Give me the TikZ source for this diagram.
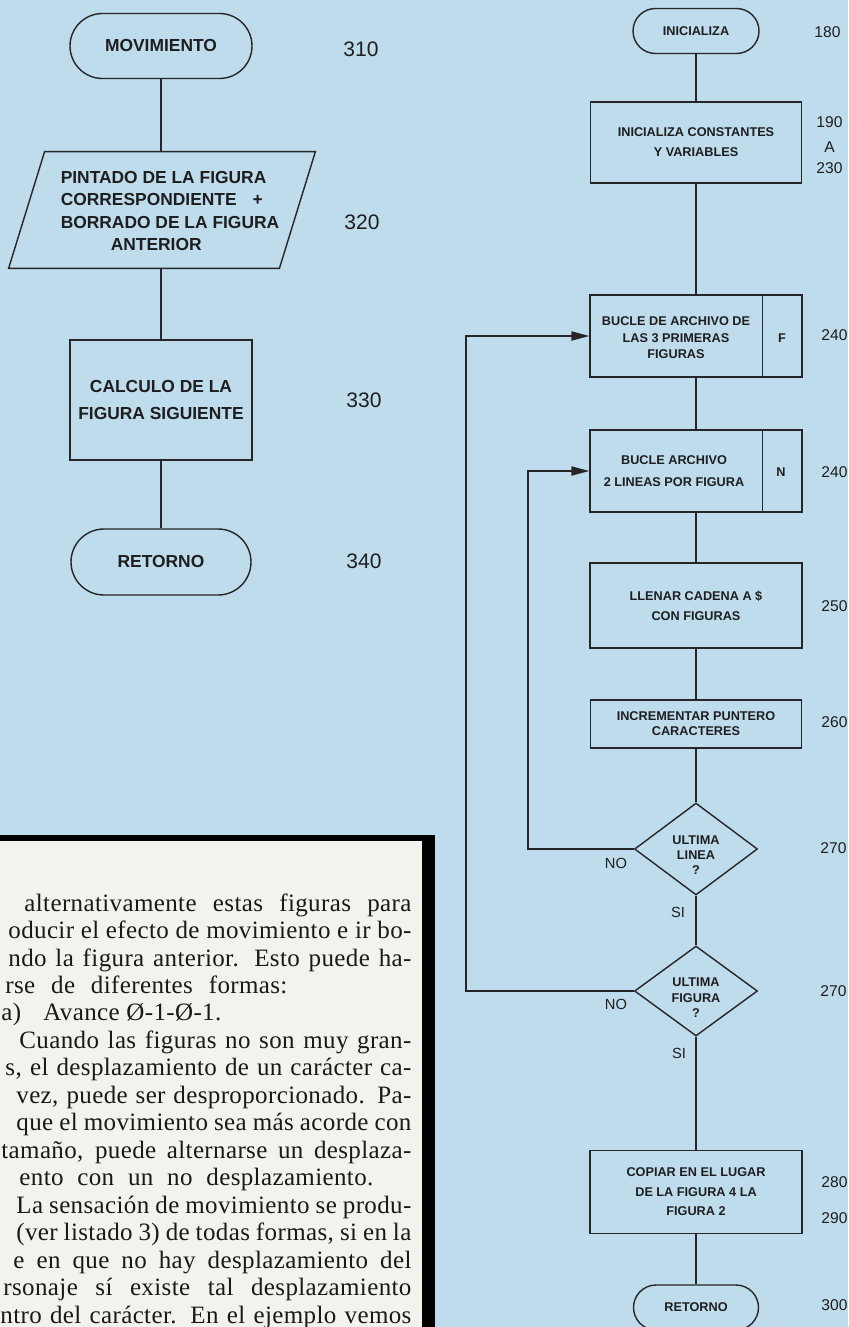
\documentclass[tikz,border=0pt]{standalone}
\usepackage{fontspec}
\setmainfont{Liberation Serif}
\newfontfamily\bodyfont[LetterSpace=1.5]{Liberation Serif}
\newfontfamily\chartfont{Liberation Sans}
\usetikzlibrary{shapes.misc,shapes.geometric,arrows.meta,calc}
\definecolor{bgblue}{RGB}{190,220,235}
\definecolor{paper}{RGB}{244,242,237}
\definecolor{linec}{RGB}{38,38,40}
\definecolor{txtc}{RGB}{30,30,32}
\definecolor{bodyc}{RGB}{25,25,25}
\tikzset{
  line/.style={draw=linec, line width=0.7pt},
  arr/.style={draw=linec, line width=0.7pt, -{Triangle[length=9pt,width=4.6pt]}},
  term/.style={rounded rectangle, draw=linec, line width=0.7pt, inner sep=0pt},
  proc/.style={rectangle, draw=linec, line width=0.7pt, inner sep=0pt},
  rhomb/.style={diamond, draw=linec, line width=0.7pt, inner sep=0pt},
  bigtxt/.style={font=\chartfont\bfseries\fontsize{8.7}{#1}\selectfont, text=txtc},
  bigtxt/.default=11.3,
  smalltxt/.style={font=\chartfont\bfseries\fontsize{6.35}{#1}\selectfont, text=txtc, inner sep=0pt},
  smalltxt/.default=9,
  bignum/.style={font=\chartfont\fontsize{10.5}{12}\selectfont, text=txtc},
  smallnum/.style={font=\chartfont\fontsize{7.8}{9}\selectfont, text=txtc, anchor=west, inner sep=0pt},
  yn/.style={font=\chartfont\fontsize{7.35}{9}\selectfont, text=txtc, inner sep=0pt},
  body/.style={font=\bodyfont\fontsize{12.5}{13.7}\selectfont, text=bodyc, anchor=base west, inner sep=0pt},
}
\begin{document}
\begin{tikzpicture}[x=0.5pt,y=-0.5pt]
\useasboundingbox (0,0) rectangle (848,1327);
\fill[bgblue] (0,0) rectangle (848,1327);

% ---------- text box ----------
\fill[paper] (-10,835) rectangle (435,1340);
\fill[black] (-10,835) rectangle (435,841);
\fill[black] (422,835) rectangle (435,1340);

\node[body] (t1) at (24,911) {\makebox[193.5pt][s]{alternativamente estas figuras para}};
\node[body] (t2) at (8,938.5) {\makebox[201.5pt][s]{oducir el efecto de movimiento e ir bo-}};
\node[body] (t3) at (8,966) {\makebox[201.5pt][s]{ndo la figura anterior. Esto puede ha-}};
\node[body] (t4) at (5,993.4) {\makebox[141pt][s]{rse de diferentes formas:}};
\node[body] (t5a) at (1,1020.9) {a)};
\node[body] (t5b) at (43,1020.9) {Avance Ø-1-Ø-1.};
\node[body] (t6) at (19,1048.4) {\makebox[196pt][s]{Cuando las figuras no son muy gran-}};
\node[body] (t7) at (5,1075.8) {\makebox[203pt][s]{s, el desplazamiento de un carácter ca-}};
\node[body] (t8) at (16,1103.3) {\makebox[197.5pt][s]{vez, puede ser desproporcionado. Pa-}};
\node[body] (t9) at (16,1130.8) {\makebox[197.5pt][s]{que el movimiento sea más acorde con}};
\node[body] (t10) at (1,1158.2) {\makebox[205pt][s]{tamaño, puede alternarse un desplaza-}};
\node[body] (t11) at (19,1185.7) {\makebox[177pt][s]{ento con un no desplazamiento.}};
\node[body] (t12) at (16,1213.2) {\makebox[197.5pt][s]{La sensación de movimiento se produ-}};
\node[body] (t13) at (16,1240.6) {\makebox[197.5pt][s]{(ver listado 3) de todas formas, si en la}};
\node[body] (t14) at (13,1268.1) {\makebox[199pt][s]{e en que no hay desplazamiento del}};
\node[body] (t15) at (3,1295.6) {\makebox[204pt][s]{rsonaje sí existe tal desplazamiento}};
\node[body] (t16) at (0,1323) {\makebox[205.5pt][s]{ntro del carácter. En el ejemplo vemos}};

% ---------- left chart ----------
\node[term, minimum width=91pt, minimum height=32.5pt, bigtxt] (m310) at (161,46) {MOVIMIENTO};
\node[bignum] (n310) at (361,49) {310};

\node[minimum width=135pt, minimum height=58pt, inner sep=0pt] (p320) at (161,210) {};
\draw[line] ($(p320.north west)+(19,0)$) -- ($(p320.north east)+(19,0)$)
  -- ($(p320.south east)+(-17,0)$) -- ($(p320.south west)+(-17,0)$) -- cycle;
\node[bigtxt, align=left, inner sep=0pt] (p320t) at (170,211)
  {PINTADO DE LA FIGURA\\CORRESPONDIENTE\hspace{8pt}+\\BORRADO DE LA FIGURA\\\hspace*{25pt}ANTERIOR};
\node[bignum] (n320) at (362,222) {320};

\node[proc, minimum width=91pt, minimum height=60pt, bigtxt=13.3, align=center] (c330) at (161,400)
  {CALCULO DE LA\\FIGURA SIGUIENTE};
\node[bignum] (n330) at (364,400) {330};

\node[term, minimum width=90pt, minimum height=33pt, bigtxt] (r340) at (161,562) {RETORNO};
\node[bignum] (n340) at (364,561) {340};

\draw[line] (m310.south) -- (p320.north);
\draw[line] (p320.south) -- (c330.north);
\draw[line] (c330.south) -- (r340.north);

% ---------- right chart ----------
\node[term, minimum width=63pt, minimum height=22.5pt, smalltxt] (i180) at (696,31) {INICIALIZA};
\node[smallnum] (n180) at (814,32) {180};

\node[proc, minimum width=105.5pt, minimum height=40.5pt, smalltxt=10, align=center] (b190) at (696,142.5)
  {INICIALIZA CONSTANTES\\Y VARIABLES};
\node[smallnum] (n190) at (816,122) {190};
\node[smallnum] (n190a) at (824,147) {A};
\node[smallnum] (n230) at (816,168) {230};

\node[proc, minimum width=106pt, minimum height=41pt] (b240f) at (696,336) {};
\draw[line] ($(b240f.north east)+(-40,0)$) -- ($(b240f.south east)+(-40,0)$);
\node[smalltxt=8.25, align=center] (t240f) at (676,338) {BUCLE DE ARCHIVO DE\\LAS 3 PRIMERAS\\FIGURAS};
\node[smalltxt] (f240) at (782,338) {F};
\node[smallnum] (n240a) at (821,335) {240};

\node[proc, minimum width=106pt, minimum height=41pt] (b240n) at (696,471) {};
\draw[line] ($(b240n.north east)+(-40,0)$) -- ($(b240n.south east)+(-40,0)$);
\node[smalltxt=11, align=center] (t240n) at (674,471) {BUCLE ARCHIVO\\2 LINEAS POR FIGURA};
\node[smalltxt] (n240) at (781,472) {N};
\node[smallnum] (n240b) at (821,472) {240};

\node[proc, minimum width=106pt, minimum height=42.5pt, smalltxt=10, align=center] (b250) at (696,605.5)
  {LLENAR CADENA A \$\\CON FIGURAS};
\node[smallnum] (n250) at (821,606) {250};

\node[proc, minimum width=105.5pt, minimum height=24pt, smalltxt=7.6, align=center] (b260) at (696,724)
  {INCREMENTAR PUNTERO\\CARACTERES};
\node[smallnum] (n260) at (821,722) {260};

\node[rhomb, minimum width=61.5pt, minimum height=46pt] (d270a) at (696,849) {};
\node[smalltxt=7.6, align=center] (t270a) at (696,855) {ULTIMA\\LINEA\\?};
\node[smallnum] (n270a) at (820,848) {270};
\node[yn] (no1) at (616,863) {NO};
\node[yn] (si1) at (678,912) {SI};

\node[rhomb, minimum width=61.5pt, minimum height=45pt] (d270b) at (696,991) {};
\node[smalltxt=7.8, align=center] (t270b) at (696,998) {ULTIMA\\FIGURA\\?};
\node[smallnum] (n270b) at (820,991) {270};
\node[yn] (no2) at (616,1004) {NO};
\node[yn] (si2) at (679,1053) {SI};

\node[proc, minimum width=106pt, minimum height=41.5pt, smalltxt=9.75, align=center] (b280) at (696,1192)
  {COPIAR EN EL LUGAR\\DE LA FIGURA 4 LA\\FIGURA 2};
\node[smallnum] (n280) at (821,1182) {280};
\node[smallnum] (n290) at (821,1218) {290};

\node[term, minimum width=62.5pt, minimum height=22.5pt, smalltxt] (r300) at (696,1307.5) {RETORNO};
\node[smallnum] (n300) at (821,1305) {300};

\draw[line] (i180.south) -- (b190.north);
\draw[line] (b190.south) -- (b240f.north);
\draw[line] (b240f.south) -- (b240n.north);
\draw[line] (b240n.south) -- (b250.north);
\draw[line] (b250.south) -- (b260.north);
\draw[line] (b260.south) -- (d270a.north);
\draw[line] (d270a.south) -- (d270b.north);
\draw[line] (d270b.south) -- (b280.north);
\draw[line] (b280.south) -- (r300.north);

\coordinate (inx) at (528,0);
\coordinate (outx) at (466,0);
\draw[arr] (d270a.west) -| (inx |- b240n.west) -- (b240n.west);
\draw[arr] (d270b.west) -| (outx |- b240f.west) -- (b240f.west);
\end{tikzpicture}
\end{document}
